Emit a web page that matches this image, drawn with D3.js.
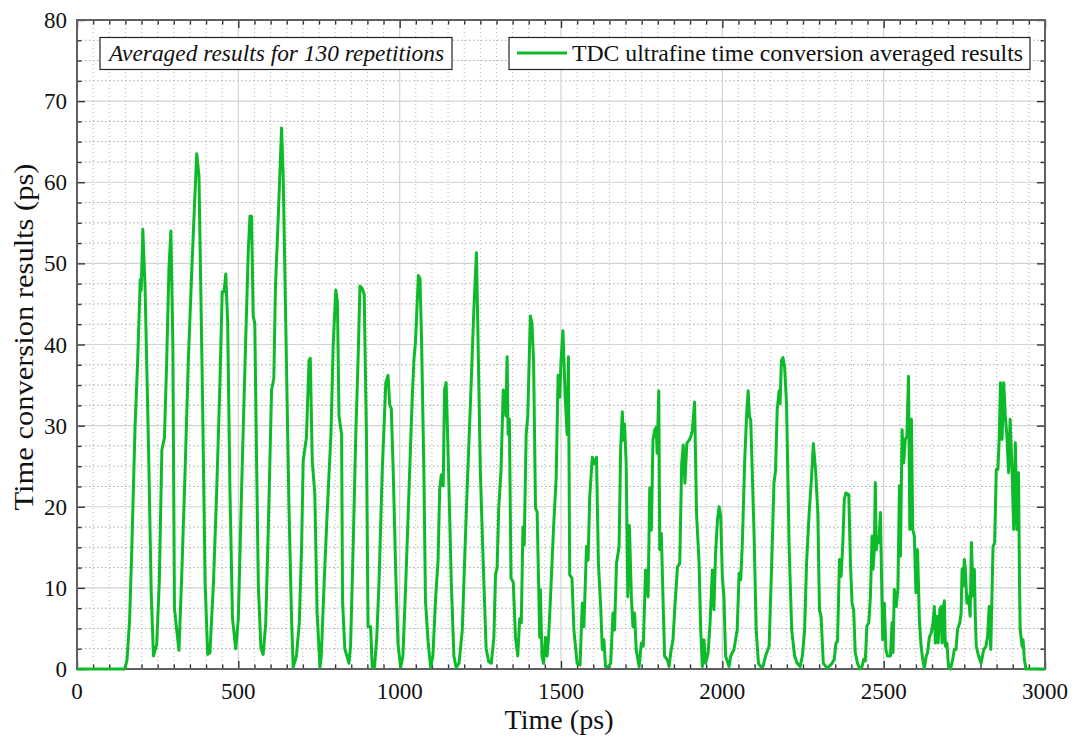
<!DOCTYPE html>
<html>
<head>
<meta charset="utf-8">
<script src="https://cdn.jsdelivr.net/npm/d3@7/dist/d3.min.js"></script>
<style>
  html, body { margin: 0; padding: 0; background: #fff; }
  svg { display: block; }
  text { font-family: "Liberation Serif", "Times New Roman", serif; fill: #111; }
</style>
</head>
<body>
<svg id="chart" width="1076" height="740"></svg>
<script>
// ---------- data ----------
const timePs = [
  0,140,148,155,163,170,180,188,196,199,204,211,222,230,237,247,255,263,271,278,285,291,297,302,309,316,
  325,335,345,356,364,371,378,389,397,405,412,423,433,443,450,456,461,467,474,482,492,500,510,521,531,536,
  541,546,551,557,562,570,577,585,593,603,610,615,624,634,639,647,657,665,670,680,689,696,701,711,719,723,
  729,737,744,753,757,766,776,787,794,802,807,812,820,823,830,843,848,856,864,871,877,884,890,897,902,910,
  915,922,929,936,946,957,964,969,974,980,988,995,1003,1010,1019,1029,1039,1044,1049,1058,1063,1068,1075,
  1080,1088,1096,1103,1111,1119,1124,1129,1135,1139,1144,1147,1153,1160,1168,1175,1184,1194,1201,1209,1220,
  1230,1238,1242,1250,1259,1268,1276,1284,1292,1297,1302,1307,1314,1321,1325,1329,1333,1336,1340,1345,1352,
  1359,1366,1372,1377,1382,1386,1392,1397,1405,1410,1415,1421,1426,1431,1434,1436,1441,1446,1452,1457,1462,
  1467,1477,1485,1491,1496,1500,1506,1513,1519,1523,1527,1534,1540,1550,1559,1566,1571,1579,1584,1589,1597,
  1603,1610,1616,1623,1628,1633,1638,1646,1654,1661,1666,1672,1680,1685,1690,1693,1697,1702,1707,1712,1718,
  1723,1728,1733,1742,1749,1755,1762,1770,1775,1780,1785,1790,1795,1798,1803,1806,1811,1816,1821,1830,1835,
  1840,1847,1853,1861,1868,1874,1879,1884,1890,1897,1902,1907,1914,1920,1928,1933,1938,1943,1948,1956,1962,
  1969,1974,1979,1985,1990,1995,2000,2005,2010,2021,2026,2036,2046,2052,2057,2062,2069,2075,2080,2084,2088,
  2098,2105,2112,2119,2126,2134,2145,2153,2160,2165,2170,2176,2179,2183,2188,2193,2199,2207,2215,2224,2232,
  2241,2248,2255,2261,2269,2276,2282,2289,2296,2301,2306,2313,2325,2340,2347,2352,2357,2363,2368,2373,2378,
  2383,2392,2397,2402,2407,2412,2419,2426,2433,2438,2443,2448,2454,2459,2464,2467,2471,2474,2477,2481,2485,
  2490,2493,2497,2502,2507,2512,2521,2526,2529,2533,2539,2544,2549,2552,2557,2562,2567,2572,2577,2581,2586,
  2590,2595,2600,2605,2611,2616,2621,2626,2632,2636,2642,2647,2653,2657,2660,2665,2669,2674,2678,2681,2684,
  2688,2691,2696,2701,2707,2714,2719,2724,2729,2736,2740,2743,2746,2750,2753,2758,2763,2768,2772,2777,2781,
  2784,2787,2794,2802,2810,2817,2822,2827,2832,2836,2839,2844,2849,2854,2858,2862,2867,2872,2877,2882,2887,
  2892,2898,2903,2908,2913,2918,2921,2923,2929,2932,2936,2941,3000
];
const convPs = [
  0,0,0,1.1,6,15,30,38,48,46.7,54.2,47,26.7,9.3,1.6,3,10.7,27,28.5,38,49.4,54,40,7.5,4.8,2.3,
  12,24.4,38,49.4,57,63.5,60.8,33.5,10.7,1.8,2,10.7,22,35.3,46.5,46.5,48.7,42.6,22,6.2,2.5,6.2,22,38,51.7,55.8,
  55.8,43.5,42.6,24.4,10.3,2.5,1.8,5.7,17.5,34.4,35.8,47,56,66.7,60.8,42.6,19.8,6.2,0.2,1.6,5.7,15,25.7,28.5,38,38.3,
  25.7,21.6,7,0.2,1.6,10.7,19.8,28.9,39.9,46.7,45.3,31.2,28.9,8.4,2.5,0.7,3,15.3,28.9,38,47.2,46.9,46.2,28.9,5.2,5.2,
  0.2,0.2,3.9,10.7,24.4,35.3,36.2,32.6,32.1,24.4,11.6,3,0.2,1.6,10.7,22.1,33.5,38,40.3,48.5,48.1,40.3,24.4,
  8.4,3.4,0.2,1.6,8.4,13.4,22.1,23.9,22.6,34.4,35.3,31.2,22.1,10.7,1.6,0.2,0.7,4.8,13,22.1,33.5,
  44.4,51.3,42.6,24.4,13,2.5,0.9,0.7,3.9,11.6,12.5,19.8,24.4,34.4,33.5,31.2,38.5,28.9,30.8,11.2,10.7,
  3.9,1.6,6.2,5.7,17.5,15.3,28.9,31.2,43.5,42.6,38,19.8,19.4,9.8,3.9,9.8,1.6,0.7,3.9,1.6,4.3,
  8.4,17.5,23.5,36.2,33.5,38,41.7,33.5,28.9,38.5,11.6,11.2,4.8,0.7,0.5,8.1,5.2,15.1,13.4,21.2,26.1,
  25.3,26.1,13,7.7,2.4,3.6,0.3,0.3,0.7,6.9,4.8,13,15.1,27.4,31.7,28.2,30.2,25.3,8.9,17.7,8.9,
  5.2,6.9,2.4,0.3,3.2,2.8,12.2,8.9,22.3,17.1,28.2,29.4,29.8,26.6,34.3,14.7,16.7,8.9,1.6,1.1,0.3,
  2,3.6,7.7,12.6,13,25.3,27.6,22.9,27.8,28.2,28.6,29.4,32.9,19.2,13,4.8,0.3,3.6,0.7,2,5.7,
  12.2,7.3,14.3,18.4,20,18.8,11.4,8.9,1.6,0.3,1.6,2.4,4.8,11.8,11,15.5,25.3,31.1,34.3,31.1,30.7,
  17.1,4.8,0.7,0.3,0.3,1.6,2.8,13,22.9,24.5,31.9,34.3,32.7,38,38.4,37.2,32.7,15.1,4.8,1.6,0.7,
  0.3,1.6,4.8,13,19.2,23.3,27.8,24.5,19.2,7.3,6.5,0.7,0.1,0.7,1.2,3.2,3.4,13.5,11.4,15.1,20.9,
  21.7,21.5,13.1,8.1,7.3,2,0.7,0,0.3,1.2,1,5.3,5.7,9,16.4,12.3,14.7,23,14.7,16,15.6,
  19.3,12.3,3.6,8.1,2.4,1.6,1.6,5.7,2,9.8,7.7,9.8,22.6,13.9,29.5,25.4,28.3,28.7,36.1,17.2,30.8,
  17.2,16.4,9.4,14.7,5.7,2.8,1.2,0.1,1.6,2,4,4.4,5.7,7.7,3.2,6.5,3.2,7.3,7.7,3.2,7.3,
  8.4,2.8,3.2,0.3,0,1.2,2.4,2.4,4.9,5.7,6.9,12.3,10.2,13.5,12.3,8.1,9,6.5,15.6,9,12.3,
  6.5,2.8,1.6,0.7,2.4,2.8,4,7.7,2.4,9.8,15.1,15.6,24.6,24.6,28.3,35.3,28.3,35.3,31.2,28.7,24.2,
  30.8,24.2,17.2,27.9,17.2,24.2,10.6,4.9,2.8,3.6,1.2,0,0
];
const xTickLabels = [0, 500, 1000, 1500, 2000, 2500, 3000];
const yTickLabels = [0, 10, 20, 30, 40, 50, 60, 70, 80];
const xTitle = "Time (ps)";
const yTitle = "Time conversion results (ps)";
const legendLabel = "TDC ultrafine time conversion averaged results";
const noteLabel = "Averaged results for 130 repetitions";

// ---------- layout ----------
const svg = d3.select("#chart");
const L = 77, R = 1045, T = 20, B = 669;
const x = d3.scaleLinear().domain([0, 3000]).range([L, R]);
const y = d3.scaleLinear().domain([0, 80]).range([B, T]);
const green = "#0dbb2a";
const frame = "#606060";

const minorX = d3.range(0, 3001, 50);
const minorY = d3.range(0, 80.01, 2.5);

// minor dotted grid
const g = svg.append("g");
g.selectAll(".vx").data(minorX.filter(v => v % 500 !== 0)).join("line")
  .attr("x1", d => x(d)).attr("x2", d => x(d)).attr("y1", T).attr("y2", B)
  .attr("stroke", "#b5b5b5").attr("stroke-width", 1).attr("stroke-dasharray", "1,3");
g.selectAll(".hy").data(minorY.filter(v => v % 10 !== 0)).join("line")
  .attr("x1", L).attr("x2", R).attr("y1", d => y(d)).attr("y2", d => y(d))
  .attr("stroke", "#a8a8a8").attr("stroke-width", 1).attr("stroke-dasharray", "1.5,2.5");
// major solid grid
g.selectAll(".mx").data(xTickLabels).join("line")
  .attr("x1", d => x(d)).attr("x2", d => x(d)).attr("y1", T).attr("y2", B)
  .attr("stroke", "#d2d2d2").attr("stroke-width", 1.2);
g.selectAll(".my").data(yTickLabels).join("line")
  .attr("x1", L).attr("x2", R).attr("y1", d => y(d)).attr("y2", d => y(d))
  .attr("stroke", "#d2d2d2").attr("stroke-width", 1.2);

// axes (ticks inward)
function tickLen(isMajor) { return isMajor ? 8 : 4.5; }
const axB = d3.axisBottom(x).tickValues(minorX).tickSize(0).tickFormat("");
const axT = d3.axisTop(x).tickValues(minorX).tickSize(0).tickFormat("");
const axL = d3.axisLeft(y).tickValues(minorY).tickSize(0).tickFormat("");
const axR = d3.axisRight(y).tickValues(minorY).tickSize(0).tickFormat("");
function styleAxis(sel, dir) {
  sel.select(".domain").remove();
  sel.selectAll(".tick line").attr("stroke", "#333").attr("stroke-width", 1.4)
    .each(function(d) {
      const maj = (dir === "x") ? (d % 500 === 0) : (d % 10 === 0);
      const l = tickLen(maj);
      d3.select(this).attr(dir === "x" ? "y2" : "x2", l);
    });
}
svg.append("g").attr("transform", `translate(0,${B})`).call(axB)
  .call(s => { styleAxis(s, "x"); s.selectAll(".tick line").attr("y2", function(){ return -(+d3.select(this).attr("y2")); }); });
svg.append("g").attr("transform", `translate(0,${T})`).call(axT).call(s => styleAxis(s, "x"));
svg.append("g").attr("transform", `translate(${L},0)`).call(axL).call(s => styleAxis(s, "y"));
svg.append("g").attr("transform", `translate(${R},0)`).call(axR)
  .call(s => { styleAxis(s, "y"); s.selectAll(".tick line").attr("x2", function(){ return -(+d3.select(this).attr("x2")); }); });

// frame
svg.append("rect").attr("x", L).attr("y", T).attr("width", R - L).attr("height", B - T)
  .attr("fill", "none").attr("stroke", frame).attr("stroke-width", 2);

// tick labels
svg.append("g").selectAll("text").data(xTickLabels).join("text")
  .attr("x", d => x(d)).attr("y", 699).attr("text-anchor", "middle")
  .attr("font-size", 23).text(d => d);
svg.append("g").selectAll("text").data(yTickLabels).join("text")
  .attr("x", 67).attr("y", d => y(d) + 8).attr("text-anchor", "end")
  .attr("font-size", 23).text(d => d);

// titles
svg.append("text").attr("x", 559).attr("y", 729).attr("text-anchor", "middle")
  .attr("font-size", 27).attr("textLength", 109).attr("lengthAdjust", "spacingAndGlyphs").text(xTitle);
svg.append("text").attr("transform", "translate(33,337) rotate(-90)").attr("text-anchor", "middle")
  .attr("font-size", 27).attr("textLength", 347).attr("lengthAdjust", "spacingAndGlyphs").text(yTitle);

// data line
const line = d3.line().x((d, i) => x(timePs[i])).y((d, i) => y(convPs[i]));
svg.append("path").datum(convPs).attr("d", line)
  .attr("fill", "none").attr("stroke", green).attr("stroke-width", 3).attr("stroke-linejoin", "round");

// annotation box
svg.append("rect").attr("x", 100).attr("y", 37.5).attr("width", 352).attr("height", 32)
  .attr("fill", "#fff").attr("stroke", "#222").attr("stroke-width", 1.2);
svg.append("text").attr("x", 109).attr("y", 61).attr("font-size", 23).attr("font-style", "italic")
  .attr("textLength", 335).attr("lengthAdjust", "spacingAndGlyphs").text(noteLabel);

// legend
svg.append("rect").attr("x", 509).attr("y", 37.5).attr("width", 521).attr("height", 32)
  .attr("fill", "#fff").attr("stroke", "#222").attr("stroke-width", 1.2);
svg.append("line").attr("x1", 517).attr("x2", 567).attr("y1", 53).attr("y2", 53)
  .attr("stroke", green).attr("stroke-width", 3);
svg.append("text").attr("x", 572).attr("y", 61).attr("font-size", 24)
  .attr("textLength", 451).attr("lengthAdjust", "spacingAndGlyphs").text(legendLabel);
</script>
</body>
</html>
